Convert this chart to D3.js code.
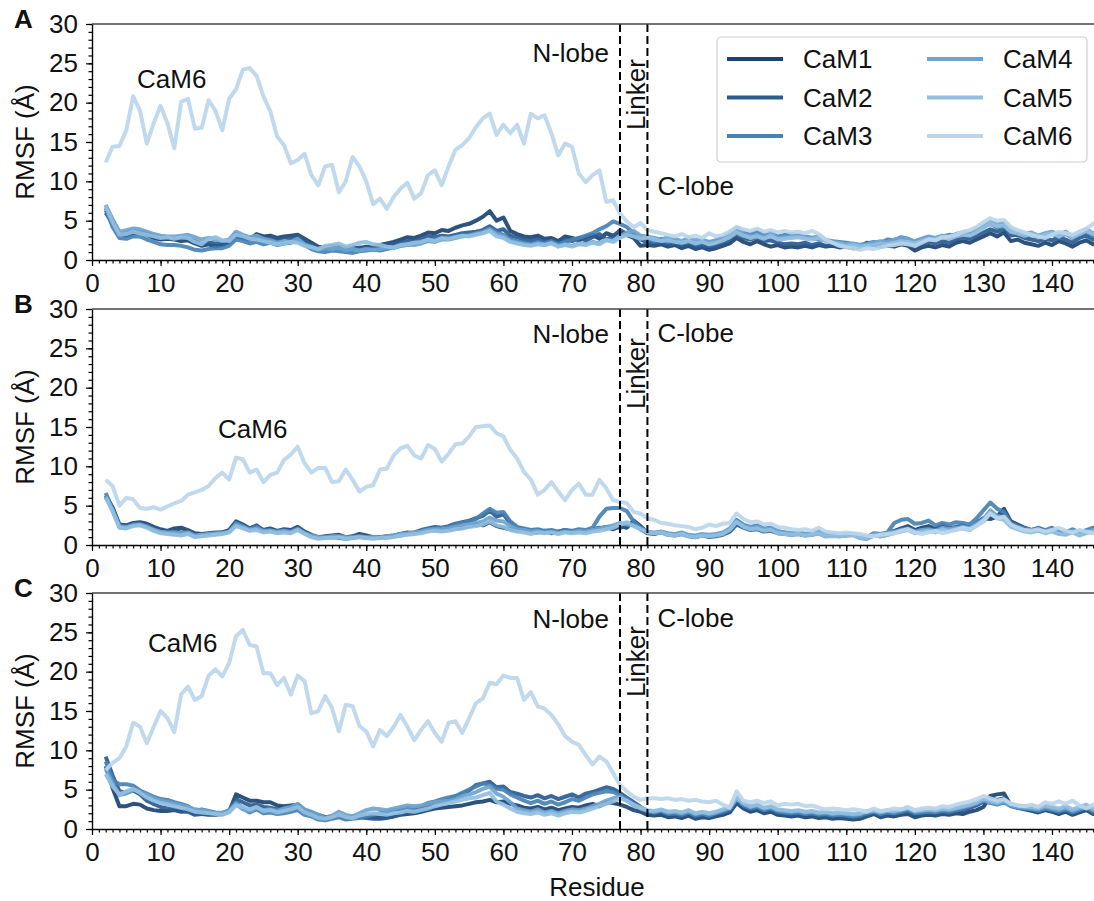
<!DOCTYPE html>
<html>
<head>
<meta charset="utf-8">
<script src="https://cdn.jsdelivr.net/npm/d3@7"></script>
<style>
body { margin: 0; background: #fff; }
text { font-family: "Liberation Sans", Arial, sans-serif; fill: #111; }
</style>
</head>
<body>
<svg id="chart"></svg>
<script>
// residues 2..147, one value per residue
var firstResidue = 2;
var seriesNames = ["CaM1", "CaM2", "CaM3", "CaM4", "CaM5", "CaM6"];
var seriesColors = ["#1b4472", "#2a5b91", "#4682b4", "#6ea4cf", "#92bfe1", "#bcd6ec"];
var yTicks = [0, 5, 10, 15, 20, 25, 30];
var xTicks = [0, 10, 20, 30, 40, 50, 60, 70, 80, 90, 100, 110, 120, 130, 140];
var lobeBounds = [77, 81];

// panel A
var a_CaM1 = [6.3,5.0,3.3,3.1,3.4,3.5,3.2,2.8,2.6,2.7, 2.6,2.4,2.5,2.1,1.8,2.0,1.7,1.9,2.2,3.0,
  2.8,2.6,3.3,3.0,3.1,2.8,3.0,3.1,3.2,2.7, 2.2,1.7,1.6,1.8,1.7,1.4,1.6,1.5,1.7,1.6,
  1.9,2.1,2.3,2.6,2.9,2.8,3.1,3.5,3.4,3.8, 3.7,4.1,4.4,4.6,5.0,5.5,6.2,5.0,5.4,3.7,
  3.3,3.0,2.9,3.1,2.7,2.8,2.4,3.0,2.8,2.5, 2.9,3.2,2.7,3.4,3.1,3.6,3.2,2.8,1.8,1.9,
  1.8,2.0,1.7,1.9,1.5,1.8,1.4,1.6,1.3,1.5, 1.8,2.1,2.8,2.3,2.0,2.4,2.0,1.7,1.9,1.6,
  1.7,1.6,1.8,1.6,1.9,1.7,1.8,1.6,1.7,1.5, 1.6,2.2,1.9,1.7,1.8,1.7,2.0,1.8,1.2,1.6,
  1.8,1.6,1.9,1.7,2.2,2.4,2.2,2.6,3.0,3.4, 3.0,3.5,2.4,2.6,2.2,2.0,1.8,2.2,1.9,2.4,
  2.1,1.7,2.2,2.5,2.0,2.3];
var a_CaM2 = [6.0,4.6,3.2,3.5,3.7,3.6,3.4,3.1,2.9,2.9, 2.8,2.9,2.7,2.4,2.0,2.2,2.1,2.0,2.3,3.3,
  2.9,2.7,2.9,2.6,2.8,2.5,2.9,2.7,3.0,2.4, 1.9,1.5,1.4,1.6,1.7,1.5,1.3,1.6,1.5,1.7,
  1.8,1.9,2.0,2.2,2.4,2.5,2.6,3.0,2.9,3.1, 3.0,3.2,3.4,3.5,3.6,3.8,4.3,3.7,3.9,3.1,
  2.9,2.6,2.4,2.7,2.5,2.3,2.2,2.6,2.4,2.8, 2.5,2.9,3.3,2.6,3.0,3.8,3.3,3.0,2.6,2.2,
  2.1,2.3,2.0,2.2,1.9,2.1,1.7,1.9,1.6,1.8, 2.2,2.6,3.4,2.8,2.6,2.9,2.4,2.5,2.2,2.0,
  2.1,2.0,2.2,1.9,2.1,1.8,1.9,1.7,1.8,1.6, 1.7,2.0,2.1,1.9,2.2,2.4,2.6,2.3,1.8,2.0,
  2.3,2.1,2.4,2.2,2.6,2.9,2.7,3.1,3.5,3.9, 3.6,4.0,3.1,3.2,2.8,2.6,2.4,2.7,2.5,2.9,
  2.6,2.2,2.8,3.1,2.6,2.8];
var a_CaM3 = [6.6,4.2,2.8,2.7,3.0,3.0,2.6,2.3,2.0,1.9, 1.9,1.8,1.6,1.3,1.2,1.4,1.5,1.5,1.8,2.6,
  2.4,2.1,2.3,2.0,2.2,1.9,2.1,2.2,2.5,1.9, 1.4,1.1,1.0,1.2,1.1,1.0,0.9,1.1,1.2,1.3,
  1.2,1.4,1.6,1.8,1.9,2.1,2.2,2.5,2.6,2.8, 2.7,2.9,3.1,3.2,3.4,3.6,4.0,3.5,3.2,2.6,
  2.4,2.2,2.0,2.3,2.1,2.4,2.0,2.3,2.6,2.8, 3.1,3.4,3.9,4.3,4.9,4.6,4.2,3.4,2.9,2.6,
  2.4,2.7,2.3,2.5,2.2,2.6,2.1,2.4,2.2,2.5, 2.9,3.4,4.1,3.6,3.3,3.7,3.2,3.5,3.0,3.2,
  3.3,3.2,3.0,2.8,2.6,2.5,2.4,2.3,2.2,2.0, 1.9,2.1,2.3,2.2,2.6,2.5,2.9,2.7,2.3,2.6,
  2.9,2.7,3.0,3.2,3.1,3.3,3.5,3.9,4.2,4.6, 4.1,4.3,3.6,3.4,3.0,3.3,2.8,3.1,3.4,2.9,
  3.3,2.8,3.2,3.6,3.1,3.5];
var a_CaM4 = [7.0,5.2,3.6,3.8,4.0,3.9,3.6,3.3,3.1,3.0, 3.0,3.1,3.2,2.9,2.6,2.8,2.6,2.4,2.6,3.6,
  3.2,2.9,3.1,2.7,2.5,2.2,2.4,2.3,2.7,2.0, 1.7,1.3,1.5,1.4,1.6,1.3,1.4,1.2,1.4,1.3,
  1.4,1.6,1.5,1.8,2.0,1.9,2.1,2.4,2.3,2.6, 2.6,2.8,3.0,3.1,3.3,3.5,3.9,3.3,3.0,2.4,
  2.2,2.0,1.9,2.1,1.9,2.2,1.8,2.0,1.8,2.1, 2.0,2.3,2.1,2.6,2.4,3.0,3.5,3.7,3.1,3.0,
  2.8,2.6,2.9,2.7,2.4,2.8,2.5,2.6,2.3,2.5, 2.7,3.1,3.8,3.3,3.0,3.2,2.9,3.3,2.8,2.9,
  3.0,3.1,3.0,2.8,3.1,2.6,2.3,2.2,2.0,2.1, 1.9,2.0,2.2,2.4,2.3,2.6,2.8,2.6,2.4,2.7,
  3.0,2.8,3.1,2.9,3.3,3.5,3.4,3.8,4.4,4.9, 4.5,4.7,3.9,3.6,3.3,3.5,3.1,3.4,3.6,3.2,
  3.6,3.0,3.5,3.9,3.4,3.8];
var a_CaM5 = [6.8,4.8,3.2,3.3,3.6,3.4,3.2,3.0,2.8,2.9, 2.7,2.9,2.8,2.3,2.0,2.7,2.9,2.5,2.4,3.2,
  3.0,2.7,2.6,2.4,2.2,2.0,2.1,2.3,2.2,1.8, 1.6,1.4,1.8,1.9,2.1,1.7,1.9,2.2,2.3,2.0,
  1.9,1.7,1.6,1.9,2.0,2.2,2.3,2.6,2.4,2.8, 2.7,2.9,3.1,3.0,3.2,3.4,3.7,3.0,2.8,2.3,
  2.1,1.9,1.8,2.0,1.9,2.1,1.7,1.9,1.7,2.0, 1.9,2.2,2.0,2.5,2.3,2.8,3.2,3.0,2.7,2.9,
  2.6,2.4,2.5,2.3,2.2,2.4,2.1,2.3,2.0,2.2, 2.5,2.9,3.5,3.1,2.8,3.0,2.7,3.1,2.6,2.7,
  2.8,2.9,2.7,2.6,2.8,2.4,2.2,2.0,1.8,1.9, 1.7,1.8,1.9,2.1,2.0,2.2,2.4,2.3,2.1,2.4,
  2.7,2.6,2.9,2.7,3.0,3.2,3.1,3.5,4.1,4.6, 4.3,4.4,3.6,3.4,3.1,3.3,2.9,3.2,3.4,3.0,
  3.4,2.9,3.3,3.7,3.3,3.6];
var a_CaM6 = [12.4,14.4,14.5,16.5,20.8,19.0,14.8,17.4,19.6,17.4, 14.2,20.1,20.5,16.7,16.8,20.3,19.0,16.5,20.5,21.7,
  24.2,24.4,23.4,20.8,18.9,15.7,14.6,12.3,12.7,13.5, 10.8,9.5,11.9,12.1,8.6,10.0,13.1,11.9,10.0,7.1,
  7.8,6.5,8.0,9.1,9.8,7.8,8.5,10.8,11.4,9.5, 11.9,14.0,14.6,15.5,16.9,18.0,18.6,15.9,17.2,16.1,
  17.2,14.8,18.6,18.0,18.4,16.1,13.3,14.8,14.4,11.0, 9.9,10.8,11.4,7.4,7.6,5.9,4.9,4.2,4.7,3.8,
  3.6,3.4,3.2,3.0,3.3,2.9,3.1,2.8,3.4,3.0, 3.2,3.6,4.2,3.9,3.7,4.0,3.6,3.8,3.5,3.7,
  3.5,3.6,3.4,3.7,3.3,2.6,2.2,1.8,1.6,1.5, 1.3,1.5,1.4,1.6,1.8,1.9,2.1,2.0,1.8,2.2,
  2.6,2.5,2.9,3.0,3.2,3.6,3.8,4.2,4.8,5.3, 5.0,5.1,4.2,3.8,3.5,3.2,3.0,2.8,3.2,3.6,
  3.4,3.2,3.6,4.0,4.6,4.8];

// panel B
var b_CaM1 = [6.3,4.8,2.6,2.5,2.8,2.9,2.7,2.3,2.0,1.8, 2.1,2.2,1.9,1.5,1.4,1.5,1.6,1.6,1.9,3.0,
  2.6,2.1,2.4,1.9,2.1,1.8,2.0,1.9,2.3,1.7, 1.3,1.0,1.1,1.2,1.3,1.0,1.1,1.4,1.2,1.0,
  1.0,1.1,1.2,1.4,1.6,1.5,1.7,1.9,2.0,1.8, 2.0,2.1,2.2,2.4,2.6,2.5,2.9,2.4,2.2,2.0,
  1.8,1.9,1.7,1.6,1.8,1.5,1.7,1.9,1.6,1.8, 1.7,1.9,2.1,2.3,2.0,2.4,2.2,3.1,2.4,1.6,
  1.5,1.7,1.4,1.3,1.5,1.2,1.0,1.3,1.1,1.2, 1.4,1.8,2.8,2.3,2.0,2.2,1.8,1.9,1.6,1.5,
  1.4,1.5,1.3,1.4,1.6,1.2,1.3,1.2,1.3,1.4, 1.0,0.9,1.3,1.2,1.5,1.8,2.1,2.4,1.9,2.2,
  2.4,2.0,2.6,2.1,2.3,2.5,2.2,2.8,3.4,3.3, 3.6,4.6,3.0,2.6,2.2,1.9,2.1,1.8,2.0,1.6,
  1.5,1.8,1.4,1.7,2.0,2.1];
var b_CaM2 = [6.1,4.6,2.5,2.4,2.7,2.8,2.5,2.1,1.8,1.7, 1.8,1.6,1.7,1.3,1.2,1.4,1.5,1.6,1.8,2.9,
  2.5,2.1,2.5,1.8,2.0,1.7,1.9,1.8,2.2,1.6, 1.2,0.9,1.0,1.1,1.0,0.9,1.0,1.1,1.0,0.9,
  1.0,1.0,1.1,1.3,1.5,1.6,1.9,2.1,2.3,2.2, 2.4,2.7,2.9,3.1,3.4,3.7,4.4,3.6,3.9,2.8,
  2.2,2.0,1.8,1.9,1.7,1.8,1.6,1.9,1.7,1.9, 1.8,2.0,2.2,2.1,2.3,2.2,2.4,2.9,2.0,1.5,
  1.4,1.6,1.3,1.2,1.4,1.1,1.0,1.2,1.0,1.1, 1.3,1.7,2.6,2.2,1.9,2.0,1.7,1.8,1.5,1.4,
  1.3,1.4,1.2,1.3,1.5,1.1,1.2,1.1,1.2,1.3, 0.9,0.8,1.2,1.1,1.3,1.6,1.8,2.0,1.6,1.9,
  2.1,1.8,2.3,2.0,2.1,2.3,2.0,2.6,3.1,3.8, 3.5,4.0,2.8,2.4,2.0,1.8,1.9,1.7,1.9,1.5,
  1.4,1.7,1.3,1.6,1.8,1.9];
var b_CaM3 = [6.6,4.5,2.3,2.2,2.6,2.6,2.4,2.0,1.6,1.5, 1.4,1.3,1.5,1.1,1.2,1.3,1.4,1.5,1.7,2.8,
  2.4,2.0,2.3,1.7,1.9,1.6,1.8,1.7,2.1,1.5, 1.1,0.9,0.9,1.0,0.9,0.8,0.9,1.0,0.9,0.9,
  0.9,1.0,1.1,1.2,1.4,1.5,1.8,2.0,2.1,2.1, 2.3,2.6,2.8,3.0,3.3,4.0,4.6,4.1,4.2,3.0,
  2.3,2.1,1.9,2.0,1.8,1.9,1.7,1.9,1.8,2.0, 1.9,2.2,3.6,4.6,4.7,4.7,4.3,3.0,2.2,1.6,
  1.5,1.6,1.4,1.3,1.5,1.2,1.1,1.3,1.2,1.3, 1.5,2.0,3.2,2.6,2.3,2.5,2.1,2.2,1.8,1.6,
  1.5,1.6,1.4,1.5,1.8,1.3,1.4,1.3,1.4,1.4, 1.1,1.0,1.5,1.4,1.6,2.8,3.2,3.3,2.7,2.8,
  3.1,2.5,2.8,2.6,2.9,2.8,2.6,3.4,4.4,5.4, 4.6,4.2,2.8,2.4,2.1,1.9,2.2,1.9,2.2,1.7,
  1.6,2.0,1.6,1.9,2.2,2.2];
var b_CaM4 = [6.2,4.4,2.4,2.3,2.5,2.6,2.3,1.9,1.7,1.6, 1.6,1.5,1.6,1.2,1.3,1.4,1.5,1.5,1.7,2.6,
  2.3,1.9,2.1,1.8,1.8,1.7,1.8,1.6,2.0,1.5, 1.2,1.0,1.0,1.1,1.1,1.0,1.0,1.1,1.0,1.0,
  1.0,1.1,1.2,1.4,1.5,1.6,1.7,1.9,2.0,2.0, 2.1,2.3,2.5,2.6,2.8,3.0,3.5,3.1,3.0,2.4,
  2.0,1.9,1.7,1.8,1.6,1.7,1.5,1.7,1.6,1.8, 1.7,1.9,2.1,2.3,2.5,2.8,2.6,2.5,2.1,1.7,
  1.6,1.7,1.5,1.4,1.6,1.3,1.2,1.4,1.3,1.4, 1.6,2.1,3.0,2.5,2.2,2.3,2.0,2.1,1.7,1.6,
  1.5,1.6,1.4,1.5,1.7,1.3,1.3,1.3,1.3,1.4, 1.1,1.0,1.4,1.3,1.5,1.7,1.9,2.1,1.7,1.9,
  2.0,1.8,2.2,2.0,2.2,2.3,2.1,2.7,3.3,4.4, 3.7,3.5,2.5,2.2,1.9,1.8,1.9,1.7,1.9,1.6,
  1.5,1.8,1.4,1.7,1.9,2.0];
var b_CaM5 = [6.0,4.3,2.2,2.1,2.4,2.5,2.2,1.8,1.5,1.4, 1.3,1.2,1.4,1.0,1.1,1.2,1.3,1.4,1.6,2.4,
  2.1,1.8,1.9,1.6,1.7,1.5,1.6,1.5,1.9,1.4, 1.0,0.8,0.9,0.9,1.0,0.8,0.9,1.0,0.9,0.8,
  0.9,0.9,1.0,1.2,1.3,1.4,1.5,1.7,1.8,1.7, 1.8,2.0,2.1,2.3,2.4,2.6,3.0,2.5,2.3,1.9,
  1.7,1.6,1.4,1.6,1.5,1.6,1.4,1.6,1.5,1.6, 1.5,1.7,1.8,2.0,2.2,2.6,2.9,2.4,2.0,1.6,
  1.5,1.6,1.3,1.2,1.4,1.1,1.0,1.2,1.1,1.2, 1.4,1.9,2.9,2.3,2.0,2.1,1.8,1.9,1.5,1.4,
  1.3,1.4,1.2,1.3,1.5,1.1,1.1,1.1,1.2,1.2, 0.9,0.8,1.2,1.1,1.3,1.5,1.7,1.9,1.5,1.7,
  1.8,1.6,2.0,1.8,2.0,2.1,1.9,2.5,3.0,4.1, 3.4,3.2,2.3,2.0,1.7,1.6,1.8,1.5,1.7,1.4,
  1.3,1.6,1.2,1.5,1.7,1.8];
var b_CaM6 = [8.3,7.5,5.0,6.0,5.8,4.7,4.6,4.8,4.5,4.9, 5.3,5.6,6.4,6.7,7.0,7.5,8.5,9.2,8.3,11.1,
  10.9,9.2,9.6,8.0,8.9,9.2,10.8,11.5,12.5,10.4, 9.2,9.8,9.8,8.0,8.1,9.6,8.3,6.8,7.4,7.6,
  9.6,9.7,11.4,12.3,12.6,11.4,11.0,12.7,12.2,10.6, 11.6,12.8,12.9,13.8,15.0,15.1,15.2,14.2,13.8,12.1,
  11.0,9.3,8.3,6.4,7.0,8.0,6.8,5.7,7.0,7.8, 6.4,6.4,8.3,7.2,5.7,5.5,5.3,4.2,4.0,3.4,
  3.2,2.8,2.7,2.5,2.4,2.3,2.0,2.2,2.6,2.4, 2.7,2.8,4.0,3.3,2.9,3.0,2.6,2.7,2.3,2.2,
  2.0,1.9,2.0,1.8,2.2,1.7,1.6,1.5,1.6,1.5, 1.4,1.2,1.1,1.3,1.4,1.5,1.8,2.0,1.6,1.4,
  1.6,1.8,1.5,1.7,1.9,2.2,2.0,2.4,3.1,4.0, 3.4,3.6,2.6,2.2,1.9,1.8,2.0,1.7,1.9,2.2,
  1.8,1.6,1.9,1.7,1.5,1.8];

// panel C
var c_CaM1 = [8.0,5.2,2.9,2.9,3.2,3.1,2.6,2.4,2.3,2.3, 2.4,2.2,2.3,2.0,1.9,1.8,1.8,1.9,2.2,4.4,
  4.0,3.6,3.6,3.4,3.4,3.0,2.9,3.0,3.1,2.4, 2.1,1.8,1.5,1.6,1.7,1.5,1.6,1.7,1.6,1.5,
  1.4,1.5,1.6,1.8,1.9,2.0,2.2,2.4,2.6,2.7, 2.8,2.9,3.0,3.2,3.4,3.5,3.7,3.4,3.5,3.2,
  3.0,2.7,2.6,2.8,2.5,2.7,2.4,2.6,2.8,2.7, 3.0,3.2,2.9,3.4,3.3,3.1,2.8,2.4,2.2,1.8,
  1.7,1.8,1.5,1.6,1.4,1.7,1.3,1.5,1.4,1.6, 1.8,2.1,3.3,2.6,2.2,2.4,2.0,2.2,1.8,1.7,
  1.6,1.7,1.5,1.6,1.4,1.5,1.3,1.4,1.3,1.2, 1.3,1.6,1.9,1.5,1.7,1.6,1.8,1.9,1.5,1.7,
  1.8,1.7,1.9,1.8,2.0,1.9,2.2,2.4,2.8,4.2, 4.4,4.5,3.0,2.7,2.5,2.3,2.1,2.4,2.2,1.9,
  2.2,1.8,2.1,2.4,1.9,2.1];
var c_CaM2 = [9.2,6.8,4.8,4.6,4.9,4.4,3.6,3.2,2.8,2.6, 2.5,2.3,2.2,1.8,1.9,2.0,1.9,2.0,2.3,3.8,
  3.4,3.0,3.1,2.8,2.7,2.5,2.6,2.7,2.9,2.2, 1.9,1.5,1.3,1.4,1.6,1.3,1.4,1.5,1.4,1.3,
  1.3,1.4,1.6,1.9,2.1,2.4,2.7,3.0,3.3,3.5, 3.7,4.1,4.5,4.9,5.6,5.8,6.0,5.3,5.4,4.7,
  4.5,4.2,4.0,4.3,3.9,4.2,3.8,4.1,4.4,4.0, 4.5,4.7,5.0,5.3,5.1,4.6,4.0,3.4,2.8,2.2,
  2.0,2.2,1.8,1.9,1.7,2.0,1.6,1.8,1.6,1.9, 2.1,2.4,3.6,2.9,2.5,2.7,2.3,2.5,2.1,2.0,
  1.9,2.0,1.8,1.9,1.7,1.8,1.6,1.7,1.6,1.5, 1.6,1.9,2.1,1.8,2.0,1.9,2.1,2.3,1.9,2.0,
  2.1,2.0,2.2,2.1,2.3,2.4,2.7,3.0,3.5,3.9, 3.7,3.9,3.1,2.9,2.7,2.6,2.4,2.7,2.5,2.3,
  2.6,2.2,2.5,2.8,2.3,2.5];
var c_CaM3 = [8.6,6.2,5.7,5.7,5.5,4.9,4.5,4.1,3.8,3.7, 3.4,3.2,2.9,2.3,2.5,2.3,2.1,2.0,2.4,3.4,
  2.6,2.1,2.5,2.0,2.1,1.9,2.0,2.2,2.4,1.8, 1.6,1.2,1.1,1.3,1.5,1.2,1.3,1.4,1.6,1.8,
  2.0,2.2,2.4,2.5,2.7,2.6,2.9,3.3,3.5,3.8, 4.0,4.2,4.6,5.0,5.4,5.8,5.6,5.1,5.0,4.4,
  4.0,3.6,3.3,3.6,3.2,3.5,3.1,3.4,3.8,3.6, 4.0,4.4,4.6,4.8,4.7,4.3,3.8,3.2,2.7,2.3,
  2.1,2.3,1.9,2.0,1.8,2.1,1.7,1.9,1.7,2.0, 2.2,2.5,3.8,3.0,2.6,2.8,2.4,2.6,2.2,2.1,
  2.0,2.1,1.9,2.0,1.8,1.9,1.7,1.8,1.7,1.6, 1.7,2.0,2.2,1.9,2.1,2.0,2.2,2.4,2.0,2.1,
  2.2,2.1,2.3,2.2,2.4,2.6,2.9,3.2,3.6,3.3, 3.1,3.4,2.9,2.7,2.6,2.5,2.3,2.6,2.4,2.2,
  2.5,2.1,2.4,2.7,2.2,2.4];
var c_CaM4 = [7.6,5.8,4.3,4.5,5.0,4.7,4.3,3.9,3.6,3.4, 3.2,3.0,2.8,2.5,2.4,2.2,2.0,2.1,2.3,3.2,
  2.5,2.3,2.7,2.4,2.5,2.3,2.6,2.8,3.2,2.5, 2.2,1.8,1.4,1.7,2.2,1.8,1.6,2.0,2.4,2.6,
  2.5,2.4,2.6,2.8,3.0,2.9,3.0,3.2,3.4,3.5, 3.6,3.8,4.2,4.4,4.7,5.1,5.4,4.5,4.1,3.4,
  2.6,2.4,2.2,2.5,2.1,2.3,2.0,2.3,2.5,2.4, 2.6,2.9,3.2,3.6,3.9,4.1,3.6,3.0,2.6,2.3,
  2.2,2.4,2.1,2.2,2.0,2.3,1.9,2.1,1.9,2.1, 2.4,2.7,3.9,3.2,2.8,3.0,2.6,2.8,2.4,2.3,
  2.2,2.3,2.1,2.2,2.0,2.1,1.9,2.0,1.9,1.8, 1.9,2.2,2.3,2.1,2.3,2.2,2.4,2.6,2.2,2.3,
  2.4,2.3,2.5,2.4,2.6,2.8,3.0,3.3,3.7,3.4, 3.2,3.5,3.0,2.8,2.7,2.6,2.5,2.8,2.6,2.4,
  2.7,2.3,2.6,2.9,2.4,2.6];
var c_CaM5 = [7.0,5.4,4.4,4.8,5.1,4.6,4.0,3.6,3.3,3.1, 2.9,2.7,2.5,2.2,2.1,2.0,1.9,1.8,2.1,3.0,
  2.8,2.5,2.8,2.3,2.4,2.1,2.3,2.5,2.8,2.1, 1.8,1.4,1.3,1.5,1.8,1.5,1.4,1.7,1.9,2.0,
  1.9,1.8,2.0,2.1,2.3,2.2,2.4,2.6,2.9,3.1, 3.3,3.5,3.7,3.9,4.0,4.3,4.6,3.5,3.1,2.6,
  2.2,2.0,1.9,2.1,1.8,2.0,1.7,2.0,2.2,2.1, 2.3,2.6,2.9,3.2,3.5,3.9,3.6,3.1,2.7,2.4,
  2.3,2.5,2.2,2.3,2.1,2.4,2.0,2.2,2.0,2.2, 2.5,2.8,4.1,3.3,2.9,3.1,2.7,2.9,2.5,2.4,
  2.3,2.4,2.2,2.3,2.1,2.2,2.0,2.1,2.0,1.9, 2.0,2.3,2.4,2.2,2.4,2.3,2.5,2.7,2.3,2.4,
  2.5,2.4,2.6,2.5,2.7,2.9,3.1,3.4,3.9,3.6, 3.4,3.7,3.2,3.0,2.9,2.8,2.7,3.0,2.8,2.6,
  2.9,2.5,2.8,3.1,2.6,2.8];
var c_CaM6 = [7.5,8.4,9.0,10.5,13.5,13.0,10.9,13.0,15.0,14.1, 12.3,17.1,18.1,16.4,16.9,19.5,20.3,19.4,21.1,24.5,
  25.3,23.4,23.2,19.8,19.8,18.3,19.2,17.1,19.5,18.8, 14.7,15.0,16.9,15.4,12.4,15.8,15.6,13.1,12.4,10.5,
  12.6,11.8,13.0,14.5,13.0,11.3,12.6,13.7,12.2,11.1, 13.5,13.7,12.2,14.1,16.0,16.6,18.6,18.4,19.5,19.2,
  19.2,16.4,17.4,15.6,15.3,14.5,13.3,11.8,11.1,10.7, 9.4,8.2,9.2,8.6,7.1,5.6,4.8,4.1,3.7,3.9,
  3.9,3.8,3.9,3.7,3.8,3.6,3.7,3.5,3.4,3.6, 3.1,2.7,4.8,3.6,3.4,3.6,3.3,3.5,3.0,3.2,
  3.1,3.2,2.9,3.0,2.7,2.5,2.6,2.5,2.4,2.5, 2.4,2.2,2.6,2.3,2.4,2.6,2.5,2.8,2.4,2.6,
  2.7,2.6,2.9,2.8,3.1,3.3,3.5,3.8,4.2,3.9, 3.6,3.8,3.2,3.0,2.9,3.1,2.8,3.4,3.2,3.5,
  3.2,3.6,3.0,2.6,3.1,3.4];

// panel layout: top / bottom pixel of each plot area and annotation spots
var panels = [
  { letter: "A", top: 24,  bottom: 260, series: [a_CaM1, a_CaM2, a_CaM3, a_CaM4, a_CaM5, a_CaM6],
    cam6: [137, 88], nlobe: 62, clobe: 195, linker: 130, legend: true },
  { letter: "B", top: 309, bottom: 545, series: [b_CaM1, b_CaM2, b_CaM3, b_CaM4, b_CaM5, b_CaM6],
    cam6: [218, 438], nlobe: 343, clobe: 342, linker: 409, legend: false },
  { letter: "C", top: 593, bottom: 829, series: [c_CaM1, c_CaM2, c_CaM3, c_CaM4, c_CaM5, c_CaM6],
    cam6: [148, 652], nlobe: 628, clobe: 627, linker: 697, legend: false }
];

var W = 1094, H = 901;
var fontSize = 26;
var svg = d3.select("#chart").attr("width", W).attr("height", H);
svg.append("rect").attr("width", W).attr("height", H).attr("fill", "#fff");

var x = d3.scaleLinear().domain([0, 146.2]).range([92, 1094.5]);

panels.forEach(function(p, pi) {
  var y = d3.scaleLinear().domain([0, 30]).range([p.bottom, p.top]);
  var g = svg.append("g").attr("class", "panel" + p.letter);

  g.append("clipPath").attr("id", "clip" + pi)
    .append("rect").attr("x", x(0)).attr("y", p.top - 5)
    .attr("width", x(146.2) - x(0)).attr("height", p.bottom - p.top + 5);

  // lines
  var line = d3.line()
    .x(function(d, i) { return x(firstResidue + i); })
    .y(function(d) { return y(d); });
  var lg = g.append("g").attr("clip-path", "url(#clip" + pi + ")");
  p.series.forEach(function(vals, si) {
    lg.append("path").datum(vals)
      .attr("d", line)
      .attr("fill", "none")
      .attr("stroke", seriesColors[si])
      .attr("stroke-width", 4)
      .attr("stroke-linejoin", "round")
      .attr("opacity", 0.92);
  });

  // domain boundaries
  lobeBounds.forEach(function(b) {
    g.append("line")
      .attr("x1", x(b)).attr("x2", x(b))
      .attr("y1", p.top).attr("y2", p.bottom)
      .attr("stroke", "#000").attr("stroke-width", 2)
      .attr("stroke-dasharray", "8,4");
  });

  // top spine
  g.append("line").attr("x1", x(0)).attr("x2", W)
    .attr("y1", p.top).attr("y2", p.top)
    .attr("stroke", "#444").attr("stroke-width", 1.4);

  // axes
  var yMinor = g.append("g").attr("transform", "translate(" + x(0) + ",0)")
    .call(d3.axisLeft(y).tickValues(d3.range(0, 31)).tickSize(3.5).tickFormat(""));
  yMinor.select(".domain").remove();
  var yMajor = g.append("g").attr("transform", "translate(" + x(0) + ",0)")
    .call(d3.axisLeft(y).tickValues(yTicks).tickSize(6).tickPadding(8).tickSizeOuter(0));
  var xMinor = g.append("g").attr("transform", "translate(0," + p.bottom + ")")
    .call(d3.axisBottom(x).tickValues(d3.range(0, 147)).tickSize(3.5).tickFormat(""));
  xMinor.select(".domain").remove();
  var xMajor = g.append("g").attr("transform", "translate(0," + p.bottom + ")")
    .call(d3.axisBottom(x).tickValues(xTicks).tickSize(6).tickPadding(8).tickSizeOuter(0));

  [yMinor, yMajor, xMinor, xMajor].forEach(function(a) {
    a.selectAll("line").attr("stroke", "#000").attr("stroke-width", 1.2);
    a.selectAll(".domain").attr("stroke", "#000").attr("stroke-width", 1.4);
    a.selectAll("text").attr("font-size", fontSize)
      .attr("font-family", "Liberation Sans, Arial, sans-serif").attr("fill", "#111");
  });

  // y label
  g.append("text")
    .attr("transform", "translate(34," + ((p.top + p.bottom) / 2) + ") rotate(-90)")
    .attr("text-anchor", "middle")
    .attr("font-size", fontSize)
    .text("RMSF (\u00C5)");

  // panel letter
  g.append("text").attr("x", 14).attr("y", p.top + 4)
    .attr("font-size", fontSize).attr("font-weight", "bold")
    .text(p.letter);

  // annotations
  g.append("text").attr("x", p.cam6[0]).attr("y", p.cam6[1])
    .attr("font-size", fontSize).text("CaM6");
  g.append("text").attr("x", x(lobeBounds[0]) - 11).attr("y", p.nlobe)
    .attr("text-anchor", "end").attr("font-size", fontSize).text("N-lobe");
  g.append("text").attr("x", x(lobeBounds[1]) + 10).attr("y", p.clobe)
    .attr("font-size", fontSize).text("C-lobe");
  g.append("text")
    .attr("transform", "translate(" + (x(lobeBounds[1]) - 2) + "," + p.linker + ") rotate(-90)")
    .attr("font-size", fontSize).text("Linker");

  if (p.legend) {
    var leg = g.append("g");
    leg.append("rect").attr("x", 717).attr("y", 37).attr("width", 370).attr("height", 125)
      .attr("rx", 4).attr("fill", "#fff").attr("fill-opacity", 0.85)
      .attr("stroke", "#d0d0d0").attr("stroke-width", 1.2);
    seriesNames.forEach(function(name, i) {
      var col = Math.floor(i / 3), row = i % 3;
      var lx = 727 + col * 200, ly = 59 + row * 38.5;
      leg.append("line").attr("x1", lx).attr("x2", lx + 56)
        .attr("y1", ly).attr("y2", ly)
        .attr("stroke", seriesColors[i]).attr("stroke-width", 4);
      leg.append("text").attr("x", lx + 76).attr("y", ly)
        .attr("dy", "0.36em").attr("font-size", fontSize).text(name);
    });
  }
});

// x label
svg.append("text").attr("x", 597).attr("y", 896)
  .attr("text-anchor", "middle").attr("font-size", fontSize).text("Residue");
</script>
</body>
</html>
